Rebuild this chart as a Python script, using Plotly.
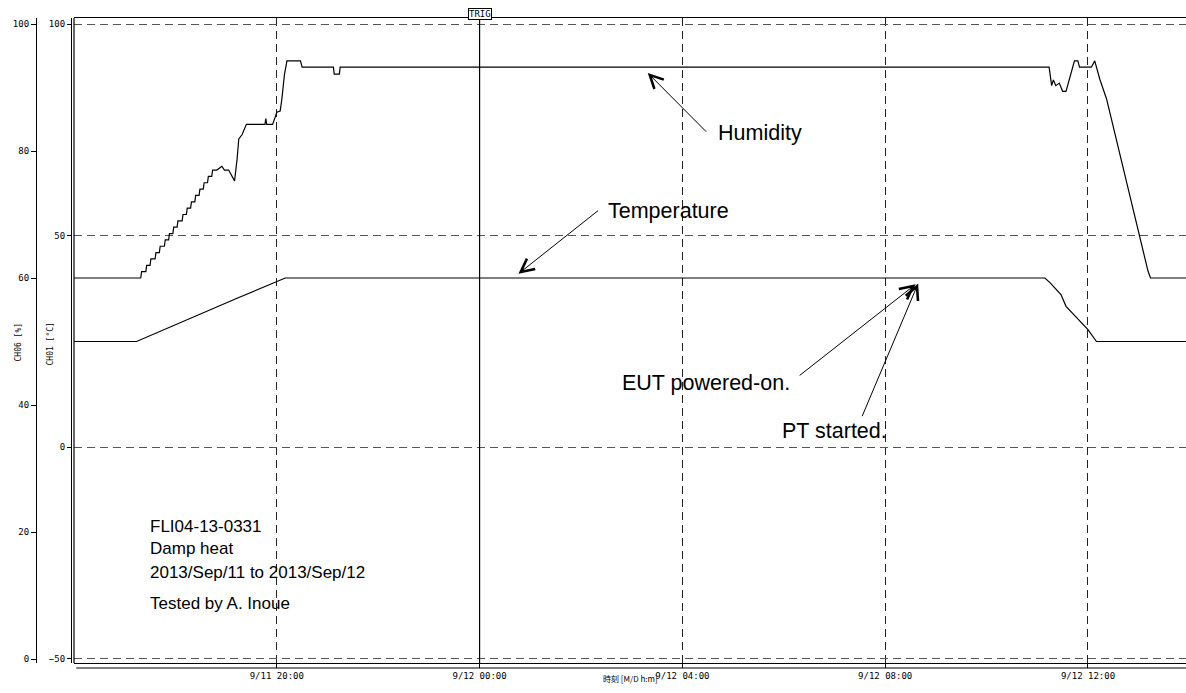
import plotly.graph_objects as go

# CH06 relative humidity [%]
hum_time = [
    "2013-09-11 16:00", "2013-09-11 17:17", "2013-09-11 17:19", "2013-09-11 17:20",
    "2013-09-11 17:25", "2013-09-11 17:26", "2013-09-11 17:30", "2013-09-11 17:31",
    "2013-09-11 17:36", "2013-09-11 17:37", "2013-09-11 17:41", "2013-09-11 17:42",
    "2013-09-11 17:47", "2013-09-11 17:48", "2013-09-11 17:52", "2013-09-11 17:53",
    "2013-09-11 17:57", "2013-09-11 17:58", "2013-09-11 18:02", "2013-09-11 18:03",
    "2013-09-11 18:08", "2013-09-11 18:09", "2013-09-11 18:13", "2013-09-11 18:14",
    "2013-09-11 18:18", "2013-09-11 18:19", "2013-09-11 18:23", "2013-09-11 18:24",
    "2013-09-11 18:28", "2013-09-11 18:29", "2013-09-11 18:33", "2013-09-11 18:34",
    "2013-09-11 18:38", "2013-09-11 18:39", "2013-09-11 18:43", "2013-09-11 18:44",
    "2013-09-11 18:49", "2013-09-11 18:55", "2013-09-11 18:58", "2013-09-11 19:03",
    "2013-09-11 19:10", "2013-09-11 19:13", "2013-09-11 19:15", "2013-09-11 19:19",
    "2013-09-11 19:24", "2013-09-11 19:46", "2013-09-11 19:47", "2013-09-11 19:48",
    "2013-09-11 19:55", "2013-09-11 19:58", "2013-09-11 20:00", "2013-09-11 20:04",
    "2013-09-11 20:06", "2013-09-11 20:09", "2013-09-11 20:12", "2013-09-11 20:28",
    "2013-09-11 20:30", "2013-09-11 21:07", "2013-09-11 21:08", "2013-09-11 21:14",
    "2013-09-11 21:15", "2013-09-12 11:14", "2013-09-12 11:17", "2013-09-12 11:19",
    "2013-09-12 11:22", "2013-09-12 11:26", "2013-09-12 11:30", "2013-09-12 11:34",
    "2013-09-12 11:44", "2013-09-12 11:48", "2013-09-12 11:50", "2013-09-12 12:04",
    "2013-09-12 12:08", "2013-09-12 12:14", "2013-09-12 12:22", "2013-09-12 13:11",
    "2013-09-12 13:14", "2013-09-12 13:56",
]
hum_rh = [
    60.0, 60.0, 60.0, 61.0,
    61.0, 62.0, 62.0, 63.0,
    63.0, 64.0, 64.0, 65.0,
    65.0, 66.0, 66.0, 67.0,
    67.0, 68.0, 68.0, 69.0,
    69.0, 70.0, 70.0, 71.0,
    71.0, 72.0, 72.0, 73.0,
    73.0, 74.0, 74.0, 75.0,
    75.0, 76.0, 76.0, 77.0,
    77.0, 77.6, 77.0, 77.0,
    75.3, 78.7, 81.9, 82.6,
    84.2, 84.2, 85.1, 84.2,
    84.2, 85.3, 86.1, 86.3,
    88.2, 92.0, 94.2, 94.2,
    93.2, 93.2, 92.1, 92.1,
    93.2, 93.2, 90.3, 91.2,
    90.3, 90.7, 89.4, 89.4,
    94.2, 94.2, 93.2, 93.2,
    94.2, 91.3, 88.2, 61.1,
    60.0, 60.0,
]

# CH01 chamber temperature [°C]
temp_time = [
    "2013-09-11 16:00", "2013-09-11 17:14", "2013-09-11 19:13", "2013-09-11 20:00",
    "2013-09-11 20:10", "2013-09-12 11:09", "2013-09-12 11:15", "2013-09-12 11:28",
    "2013-09-12 11:34", "2013-09-12 12:00", "2013-09-12 12:10", "2013-09-12 13:56",
]
temp_c = [25.0, 25.0, 35.2, 39.0, 40.0, 40.0, 38.9, 36.1, 33.3, 27.8, 25.0, 25.0]

# time axis
x_start = "2013-09-11 16:00"
x_end = "2013-09-12 13:56"
x_ticks = ["2013-09-11 20:00", "2013-09-12 00:00", "2013-09-12 04:00",
           "2013-09-12 08:00", "2013-09-12 12:00"]
x_tick_text = ["9/11 20:00", "9/12 00:00", "9/12 04:00", "9/12 08:00", "9/12 12:00"]
trig_time = "2013-09-12 00:00"

temp_ticks = [-50, 0, 50, 100]
hum_ticks = [0, 20, 40, 60, 80, 100]

W, H = 1186, 693
PLOT_L, PLOT_T, PLOT_B = 74, 18, 663

mono = "DejaVu Sans Mono, monospace"
tick_font = dict(family=mono, size=9, color="black")
small_font = dict(family=mono, size=8, color="black")
note_font = dict(family="Liberation Sans, Arial, sans-serif", size=21.5, color="black")
record_font = dict(family="Liberation Sans, Arial, sans-serif", size=17, color="black")

fig = go.Figure()
fig.add_trace(go.Scatter(x=temp_time, y=temp_c, mode="lines", yaxis="y",
                         line=dict(color="black", width=1.2), showlegend=False))
fig.add_trace(go.Scatter(x=hum_time, y=hum_rh, mode="lines", yaxis="y2",
                         line=dict(color="black", width=1.2), showlegend=False))


def px_to_paper_x(px):
    return px / W


def px_to_paper_y(py):
    return (PLOT_B - py) / (PLOT_B - PLOT_T)


fig.update_layout(
    width=W, height=H,
    margin=dict(l=0, r=0, t=PLOT_T, b=H - PLOT_B),
    paper_bgcolor="white", plot_bgcolor="white",
    showlegend=False,
    xaxis=dict(
        type="date", domain=[PLOT_L / W, 1.0], range=[x_start, x_end],
        tickmode="array", tickvals=x_ticks, ticktext=x_tick_text,
        ticks="outside", ticklen=4, tickcolor="black", tickfont=tick_font,
        showgrid=True, gridcolor="#222", griddash="8px,5px", gridwidth=1,
        showline=True, linecolor="black", linewidth=1, mirror=True,
        zeroline=False,
    ),
    yaxis=dict(
        range=[-50.95, 101.42], anchor="free", position=71 / W,
        tickmode="array", tickvals=temp_ticks,
        ticks="outside", ticklen=4, tickcolor="black", tickfont=tick_font,
        showgrid=True, gridcolor="#555", griddash="8px,5px", gridwidth=1,
        showline=True, linecolor="black", linewidth=1.2, zeroline=False,
    ),
    yaxis2=dict(
        range=[-0.63, 100.95], anchor="free", position=36 / W, overlaying="y",
        tickmode="array", tickvals=hum_ticks,
        ticks="outside", ticklen=5, tickcolor="black", tickfont=tick_font,
        showgrid=False, showline=True, linecolor="black", linewidth=1.2,
        zeroline=False,
    ),
)

shapes = [
    # left frame of the plotting area
    dict(type="line", xref="x domain", yref="y domain", x0=0, x1=0, y0=0, y1=1,
         line=dict(color="black", width=1.2)),
    # second bottom rule under the time axis
    dict(type="line", xref="x domain", yref="paper", x0=0.002, x1=1,
         y0=px_to_paper_y(668), y1=px_to_paper_y(668),
         line=dict(color="black", width=1.2)),
    # trigger marker
    dict(type="line", xref="x", yref="paper", x0=trig_time, x1=trig_time,
         y0=0, y1=px_to_paper_y(14), line=dict(color="black", width=1.2)),
]
fig.update_layout(shapes=shapes)

arrow_style = dict(showarrow=True, arrowhead=5, arrowsize=2.6, arrowwidth=1.0,
                   arrowcolor="black", text="", standoff=0)

annotations = [
    dict(text="TRIG", x=trig_time, xref="x", y=px_to_paper_y(8), yref="paper",
         showarrow=False, font=dict(family=mono, size=9, color="black"),
         bordercolor="black", borderwidth=1, borderpad=0, bgcolor="white"),
    dict(text="CH06 [%]", x=px_to_paper_x(11), xref="paper",
         y=px_to_paper_y(342), yref="paper", textangle=-90, showarrow=False,
         font=small_font),
    dict(text="CH01 [°C]", x=px_to_paper_x(43), xref="paper",
         y=px_to_paper_y(344), yref="paper", textangle=-90, showarrow=False,
         font=small_font),
    dict(text="時刻 [M/D h:m]", x=px_to_paper_x(630), xref="paper",
         y=px_to_paper_y(686), yref="paper", showarrow=False,
         font=dict(family="Noto Sans CJK JP, sans-serif", size=8, color="black")),
    # arrows pointing to the traces
    dict(x="2013-09-12 03:19", y=92.3, xref="x", yref="y2",
         ax="2013-09-12 04:30", ay=82.8, axref="x", ayref="y2", **arrow_style),
    dict(x="2013-09-12 00:46", y=41.0, xref="x", yref="y",
         ax="2013-09-12 02:22", ay=56.2, axref="x", ayref="y", **arrow_style),
    dict(x="2013-09-12 08:36", y=38.5, xref="x", yref="y",
         ax="2013-09-12 06:17", ay=16.7, axref="x", ayref="y", **arrow_style),
    dict(x="2013-09-12 08:39", y=38.7, xref="x", yref="y",
         ax="2013-09-12 07:32", ay=7.0, axref="x", ayref="y", **arrow_style),
    # labels for the arrows
    dict(text="Humidity", x="2013-09-12 04:40", xref="x", y=82.8, yref="y2",
         xanchor="left", yanchor="middle", showarrow=False, font=note_font),
    dict(text="Temperature", x="2013-09-12 02:30", xref="x", y=55.8, yref="y",
         xanchor="left", yanchor="middle", showarrow=False, font=note_font),
    dict(text="EUT powered-on.", x="2013-09-12 06:10", xref="x", y=15.1, yref="y",
         xanchor="right", yanchor="middle", showarrow=False, font=note_font),
    dict(text="PT started.", x="2013-09-12 05:56", xref="x", y=3.9, yref="y",
         xanchor="left", yanchor="middle", showarrow=False, font=note_font),
]

# test record block
record_lines = ["FLI04-13-0331", "Damp heat", "2013/Sep/11 to 2013/Sep/12",
                "Tested by A. Inoue"]
record_y_px = [526, 548, 572, 603]
for line, ypx in zip(record_lines, record_y_px):
    annotations.append(dict(text=line, x=px_to_paper_x(148), xref="paper",
                            y=px_to_paper_y(ypx), yref="paper",
                            xanchor="left", yanchor="middle", showarrow=False,
                            font=record_font))

fig.update_layout(annotations=annotations)

fig.write_html("out.html")
